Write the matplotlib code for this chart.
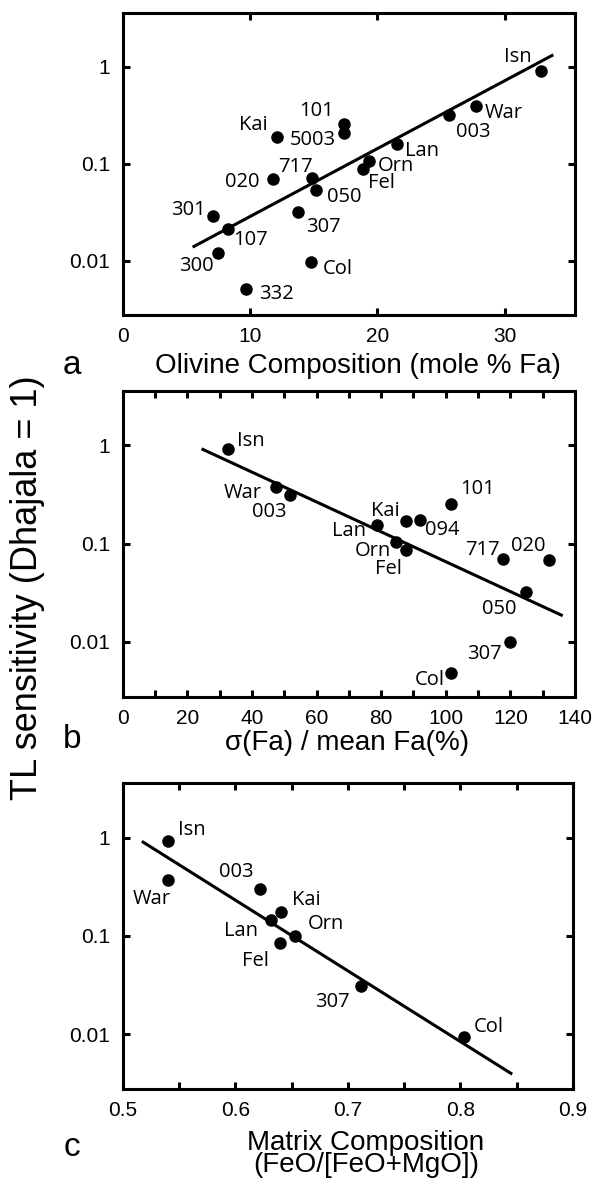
import numpy as np
import matplotlib
matplotlib.use("Agg")
import matplotlib.pyplot as plt
from matplotlib.ticker import FixedLocator, MultipleLocator, NullLocator, FormatStrFormatter

# panel a: TL sensitivity vs olivine composition
a_names = ["Isn", "War", "003", "Lan", "Orn", "Fel", "101", "5003", "Kai", "717",
           "050", "020", "301", "107", "300", "307", "Col", "332"]
a_fa = [32.8, 27.7, 25.6, 21.5, 19.3, 18.85, 17.4, 17.4, 12.1, 14.9,
        15.2, 11.8, 7.1, 8.3, 7.5, 13.8, 14.8, 9.7]
a_tl = [0.91, 0.39, 0.32, 0.16, 0.107, 0.088, 0.26, 0.21, 0.19, 0.071,
        0.054, 0.07, 0.029, 0.021, 0.012, 0.032, 0.0098, 0.0051]
a_fit_x = [5.5, 33.8]
a_fit_y = [0.0138, 1.33]

# panel b: TL sensitivity vs sigma(Fa)/mean Fa
b_names = ["Isn", "War", "003", "Lan", "Kai", "094", "101", "Orn", "Fel", "717",
           "020", "050", "307", "Col"]
b_cv = [32.5, 47.3, 51.9, 78.8, 87.6, 91.9, 101.7, 84.7, 87.6, 117.7,
        131.8, 124.9, 119.9, 101.7]
b_tl = [0.92, 0.38, 0.31, 0.155, 0.17, 0.174, 0.254, 0.105, 0.087, 0.07,
        0.068, 0.032, 0.01, 0.0048]
b_fit_x = [24.4, 136.2]
b_fit_y = [0.925, 0.0184]

# panel c: TL sensitivity vs matrix composition
c_names = ["Isn", "War", "003", "Kai", "Lan", "Orn", "Fel", "307", "Col"]
c_mx = [0.54, 0.54, 0.622, 0.641, 0.632, 0.653, 0.64, 0.712, 0.803]
c_tl = [0.92, 0.37, 0.30, 0.177, 0.145, 0.10, 0.084, 0.031, 0.0094]
c_fit_x = [0.517, 0.846]
c_fit_y = [0.92, 0.0039]

# label offsets (pixels, dx right / dy up)
a_off = [(-23, 14), (28, -7), (25, -17), (25, -7), (27, -5), (19, -14), (-28, 13), (-31, -7),
         (-23, 12), (-17, 11), (28, -7), (-31, -3), (-25, 6), (22, -11), (-22, -13),
         (25, -15), (27, -7), (30, -5)]
b_off = [(23, 8), (-33, -6), (-21, -17), (-28, -6), (-20, 10), (23, -10), (26, 15), (-23, -9),
         (-17, -19), (-21, 9), (-20, 14), (-27, -17), (-26, -12), (-22, -7)]
c_off = [(24, 11), (-16, -19), (-24, 17), (25, 12), (-30, -11), (31, 12), (-25, -18),
         (-29, -16), (25, 10)]

TICK_FONT = ["Liberation Sans", "DejaVu Sans"]
LABEL_FONT = ["Open Sans", "DejaVu Sans"]
plt.rcParams["font.family"] = TICK_FONT

fig = plt.figure(figsize=(5.92, 11.82), dpi=100)
W, H = 592.0, 1182.0


def make_axes(left, right, top, bottom):
    return fig.add_axes([left / W, 1 - bottom / H, (right - left) / W, (bottom - top) / H])


def panel(ax, x, y, names, offs, fx, fy):
    ax.plot(fx, fy, color="black", lw=2.2, solid_capstyle="butt", zorder=2)
    ax.plot(x, y, "o", color="black", ms=8, zorder=3)
    for xi, yi, nm, (dx, dy) in zip(x, y, names, offs):
        ax.annotate(nm, (xi, yi), xytext=(dx, dy), textcoords="offset pixels",
                    ha="center", va="center", fontsize=14.5, family=LABEL_FONT)
    ax.set_yscale("log")
    ax.set_ylim(10 ** -2.56, 10 ** 0.555)
    ax.yaxis.set_major_locator(FixedLocator([0.01, 0.1, 1]))
    ax.set_yticklabels(["0.01", "0.1", "1"])
    ax.yaxis.set_minor_locator(NullLocator())
    for s in ax.spines.values():
        s.set_linewidth(2.2)
    ax.tick_params(which="both", direction="in", length=5, width=2.2,
                   top=True, right=True, labelsize=15, pad=9)


ax_a = make_axes(122.5, 575, 13, 315)
panel(ax_a, a_fa, a_tl, a_names, a_off, a_fit_x, a_fit_y)
ax_a.set_xlim(0, 35.5)
ax_a.set_xticks([0, 10, 20, 30])
ax_a.set_xlabel("Olivine Composition (mole % Fa)", fontsize=20)
ax_a.xaxis.set_label_coords(0.52, -0.125)

ax_b = make_axes(122.7, 575, 391, 696.7)
panel(ax_b, b_cv, b_tl, b_names, b_off, b_fit_x, b_fit_y)
ax_b.set_xlim(0, 140)
ax_b.xaxis.set_major_locator(MultipleLocator(20))
ax_b.xaxis.set_minor_locator(MultipleLocator(10))
ax_b.set_xlabel("σ(Fa) / mean Fa(%)", fontsize=20)
ax_b.xaxis.set_label_coords(0.497, -0.11)

ax_c = make_axes(122.7, 573, 783.3, 1089)
panel(ax_c, c_mx, c_tl, c_names, c_off, c_fit_x, c_fit_y)
ax_c.set_xlim(0.5, 0.9)
ax_c.xaxis.set_major_locator(MultipleLocator(0.1))
ax_c.xaxis.set_minor_locator(MultipleLocator(0.05))
ax_c.xaxis.set_major_formatter(FormatStrFormatter("%.1f"))
ax_c.set_xlabel("Matrix Composition\n(FeO/[FeO+MgO])", fontsize=20, linespacing=0.8)
ax_c.xaxis.set_label_coords(0.54, -0.135)

fig.text(28 / W, 1 - 588 / H, "TL sensitivity (Dhajala = 1)", rotation=90,
         ha="center", va="center", fontsize=26)
for letter, yy in [("a", 365), ("b", 740), ("c", 1148)]:
    fig.text(72 / W, 1 - yy / H, letter, ha="center", va="center", fontsize=24)

fig.savefig("out.png", dpi=100)
